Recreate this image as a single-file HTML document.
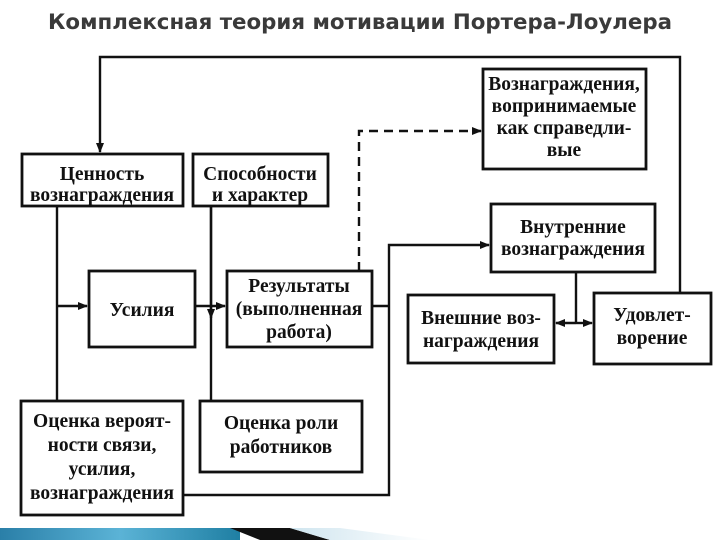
<!DOCTYPE html>
<html><head><meta charset="utf-8"><style>
html,body{margin:0;padding:0;background:#fff;}
svg{display:block;}
.t{font-family:"Liberation Serif","Noto Serif CJK SC",serif;font-size:19.5px;font-weight:bold;fill:#111;text-anchor:middle;}
</style></head><body>
<svg width="720" height="540" viewBox="0 0 720 540" xmlns="http://www.w3.org/2000/svg">
<defs>
<linearGradient id="bl" x1="0" x2="1"><stop offset="0" stop-color="#2a7fa8"/><stop offset="0.5" stop-color="#5bb3d6"/><stop offset="1" stop-color="#1f7fa3"/></linearGradient>
<linearGradient id="lt" x1="0" x2="1"><stop offset="0" stop-color="#cfe5ef"/><stop offset="1" stop-color="#ffffff"/></linearGradient>
<marker id="a" markerWidth="10" markerHeight="8" refX="9" refY="4" orient="auto" markerUnits="userSpaceOnUse"><path d="M0,0 L10,4 L0,8 z" fill="#111"/></marker>
</defs>
<text x="360" y="29" textLength="624" lengthAdjust="spacingAndGlyphs" style="font-family:'DejaVu Sans','Liberation Sans',sans-serif;font-size:21px;font-weight:bold;fill:#3a3a3a;text-anchor:middle">Комплексная теория мотивации Портера-Лоулера</text>

<g stroke="#111" stroke-width="2.8" fill="none">
<rect x="22" y="154" width="161" height="52"/>
<rect x="193" y="154" width="135" height="52"/>
<rect x="89" y="271" width="106" height="76"/>
<rect x="227" y="271" width="145" height="76"/>
<rect x="21" y="401" width="162" height="114"/>
<rect x="200" y="401" width="162" height="71"/>
<rect x="483" y="69" width="163" height="100"/>
<rect x="491" y="204" width="164" height="68"/>
<rect x="408" y="295" width="146" height="68"/>
<rect x="594" y="293" width="117" height="71"/>
</g>
<g stroke="#111" stroke-width="2.4" fill="none">
<path d="M680 293 V57 H100 V152" marker-end="url(#a)"/>
<path d="M57 206 V401"/>
<path d="M57 306 H87" marker-end="url(#a)"/>
<path d="M211 206 V401"/>
<path d="M211 206 V318" marker-end="url(#a)"/>
<path d="M195 306 H225" marker-end="url(#a)"/>
<path d="M372 306 H389"/>
<path d="M183 495 H389 V245 H489" marker-end="url(#a)"/>
<path d="M576 272 V323"/>
<path d="M576 323 H556" marker-end="url(#a)"/>
<path d="M576 323 H592" marker-end="url(#a)"/>
<path d="M359 271 V131 H481" stroke-dasharray="9,6" marker-end="url(#a)"/>
</g>

<text class="t" x="102" y="180">Ценность</text>
<text class="t" x="102" y="201">вознаграждения</text>
<text class="t" x="260" y="180">Способности</text>
<text class="t" x="260" y="201">и характер</text>
<text class="t" x="142" y="316">Усилия</text>
<text class="t" x="299" y="292">Результаты</text>
<text class="t" x="299" y="315">(выполненная</text>
<text class="t" x="299" y="338">работа)</text>
<text class="t" x="102" y="427">Оценка вероят-</text>
<text class="t" x="102" y="451">ности связи,</text>
<text class="t" x="102" y="475">усилия,</text>
<text class="t" x="102" y="499">вознаграждения</text>
<text class="t" x="281" y="429">Оценка роли</text>
<text class="t" x="281" y="453">работников</text>
<text class="t" x="564" y="90">Вознаграждения,</text>
<text class="t" x="564" y="112">вопринимаемые</text>
<text class="t" x="564" y="134">как справедли-</text>
<text class="t" x="564" y="156">вые</text>
<text class="t" x="573" y="233">Внутренние</text>
<text class="t" x="573" y="255">вознаграждения</text>
<text class="t" x="481" y="324">Внешние воз-</text>
<text class="t" x="481" y="347">награждения</text>
<text class="t" x="652" y="321">Удовлет-</text>
<text class="t" x="652" y="344">ворение</text>

<rect x="0" y="528" width="240" height="12" fill="url(#bl)"/>
<polygon points="230,528 290,528 330,540 260,540" fill="#111"/>
<polygon points="290,528 340,528 430,540 330,540" fill="url(#lt)"/>
</svg>
</body></html>
